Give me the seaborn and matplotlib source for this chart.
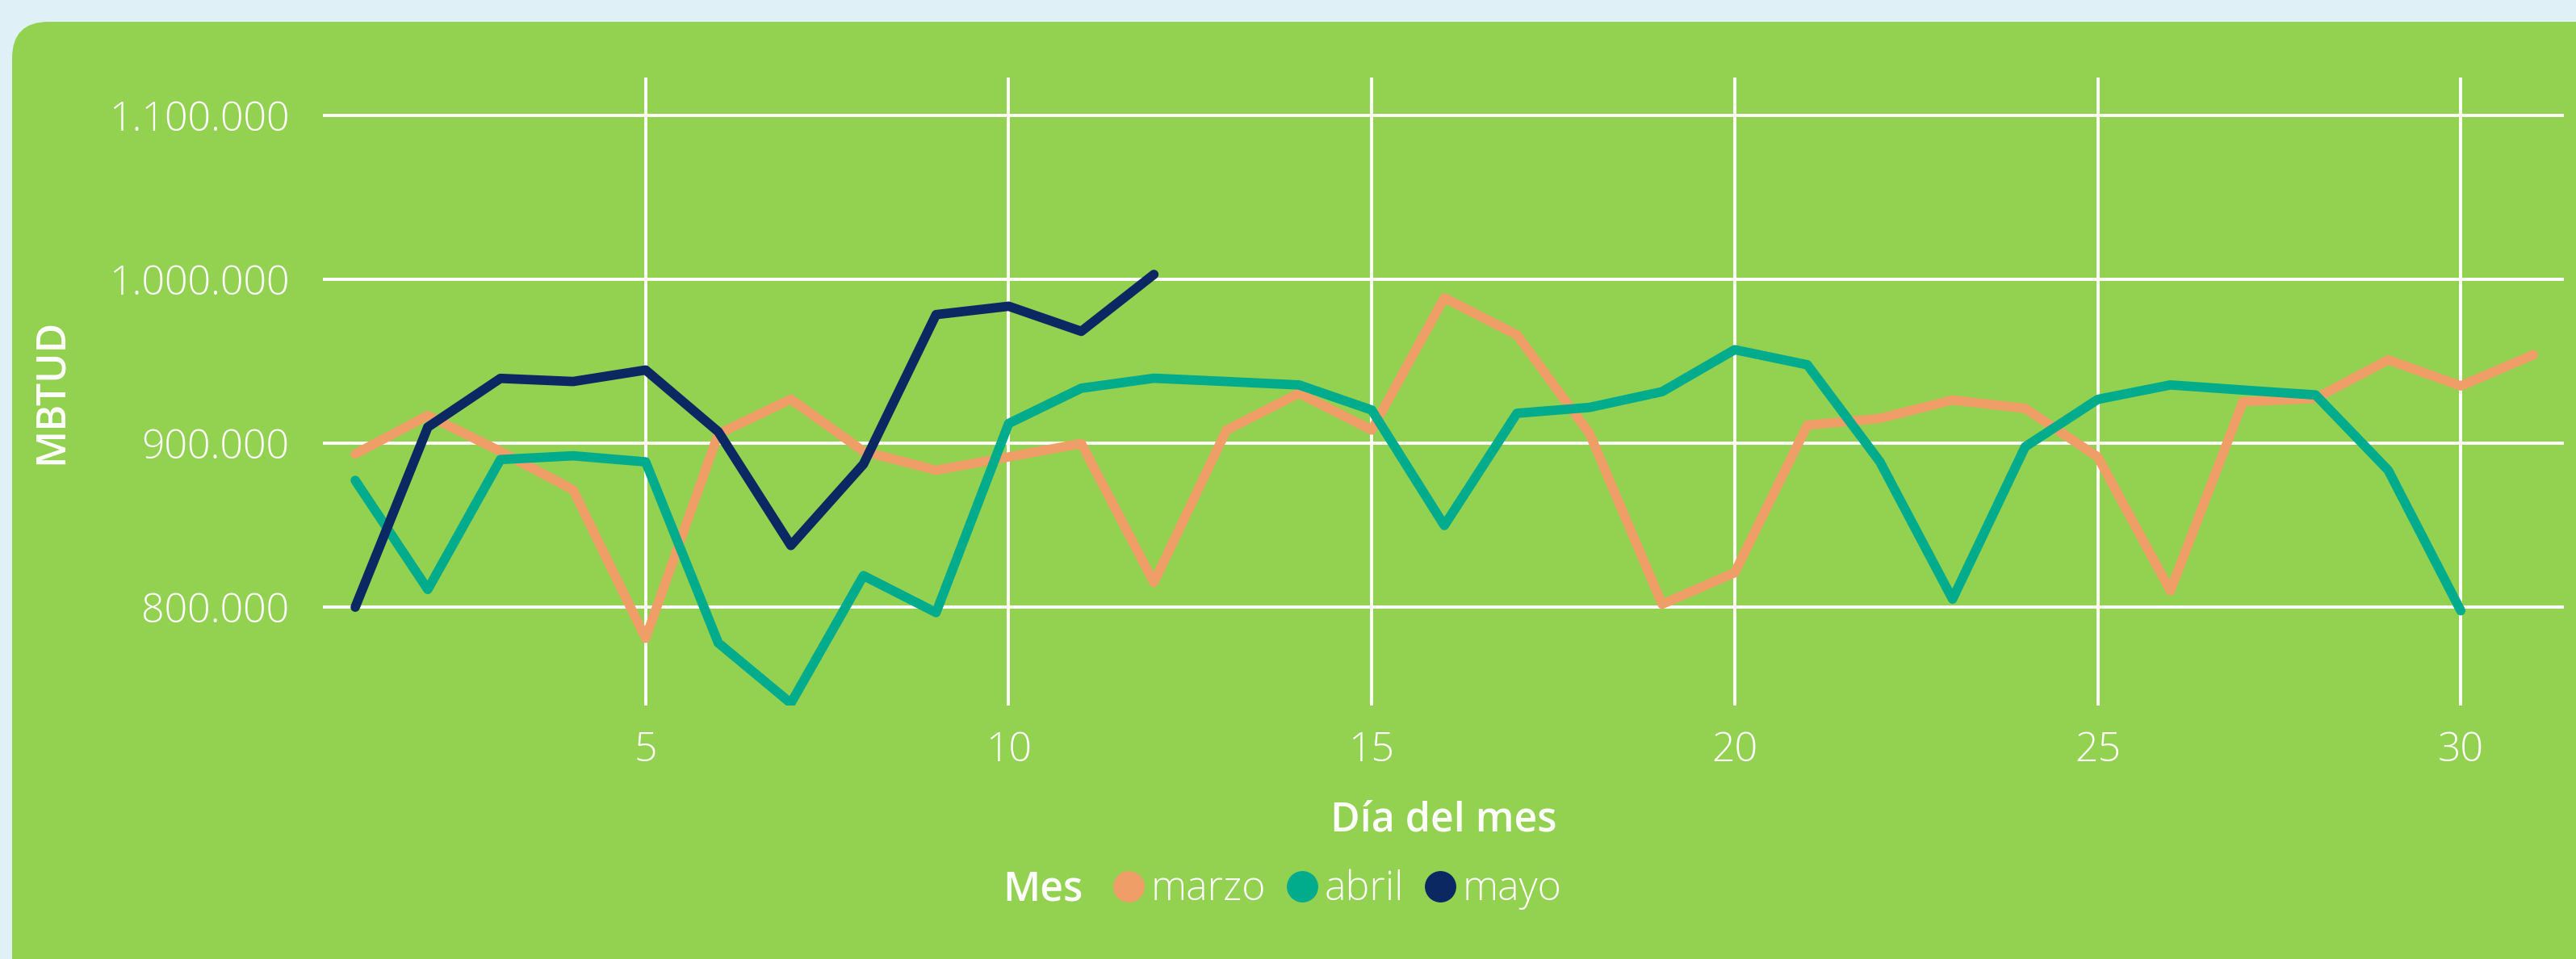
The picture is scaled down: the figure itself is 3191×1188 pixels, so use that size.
import pandas as pd
import seaborn as sns
import matplotlib.pyplot as plt
from matplotlib.patches import FancyBboxPatch
from matplotlib.lines import Line2D
from matplotlib.ticker import FuncFormatter

# Daily values (MBTUD)
dias = [1, 2, 3, 4, 5, 6, 7, 8, 9, 10, 11, 12, 13, 14, 15, 16,
        17, 18, 19, 20, 21, 22, 23, 24, 25, 26, 27, 28, 29, 30, 31]
marzo = [893400, 916900, 895000, 871600, 781000, 905600, 926800, 895000,
         883500, 891600, 899800, 815100, 908000, 930400, 908000, 988600,
         966000, 905900, 801800, 821000, 911000, 915100, 926300, 921200,
         891600, 810000, 925300, 927300, 950800, 934900, 953900]
abril = [877300, 810800, 890000, 892300, 888600, 778200, 741400, 819200,
         796700, 912000, 933500, 939600, 937600, 935500, 920200, 849800,
         918200, 921800, 931400, 957000, 947800, 888600, 804900, 897800,
         926700, 935500, 932400, 929400, 883500, 797800]
mayo = [800000, 909800, 939500, 937600, 944600, 907000, 837600, 887200,
        978400, 983500, 968200, 1002900]
meses = ['marzo', 'abril', 'mayo']
y_ticks = [800000, 900000, 1000000, 1100000]
x_ticks = [5, 10, 15, 20, 25, 30]

colores = {'marzo': '#F09E67', 'abril': '#00AC8C', 'mayo': '#0B2862'}
verde = '#93D150'
fondo = '#DFF0F7'

# long format table for seaborn
df = pd.concat([
    pd.DataFrame({'Día': dias[:len(marzo)], 'MBTUD': marzo, 'Mes': 'marzo'}),
    pd.DataFrame({'Día': dias[:len(abril)], 'MBTUD': abril, 'Mes': 'abril'}),
    pd.DataFrame({'Día': dias[:len(mayo)], 'MBTUD': mayo, 'Mes': 'mayo'}),
], ignore_index=True)

sns.set_style('white')
plt.rcParams['font.family'] = ['Open Sans', 'DejaVu Sans']

fig = plt.figure(figsize=(3191 / 200, 1188 / 200), dpi=200, facecolor=fondo)

# green rounded panel behind everything (pixel coords)
panel = FancyBboxPatch((15, -60), 3260, 1188 - 27 + 60,
                       boxstyle='round,pad=0,rounding_size=45',
                       transform=None, facecolor=verde, edgecolor='none', zorder=-5)
fig.patches.append(panel)

ax = fig.add_axes([400 / 3191, 1 - 874 / 1188, 2776 / 3191, 778 / 1188])
ax.set_zorder(1)
ax.set_facecolor('none')

sns.lineplot(data=df, x='Día', y='MBTUD', hue='Mes', hue_order=meses,
             palette=colores, linewidth=4.2, legend=False, ax=ax)
for ln in ax.lines:
    ln.set_solid_capstyle('round')
    ln.set_solid_joinstyle('round')

ax.set_xlim(0.555, 31.42)
ax.set_ylim(740000, 1123000)
ax.set_xticks(x_ticks)
ax.set_yticks(y_ticks)
ax.yaxis.set_major_formatter(FuncFormatter(lambda v, p: f"{int(v):,}".replace(',', '.')))

ax.grid(True, color='white', linewidth=1.4)
ax.set_axisbelow(True)
for s in ax.spines.values():
    s.set_visible(False)

ax.tick_params(axis='both', length=0, colors='white', labelsize=18)
ax.tick_params(axis='y', pad=15)
ax.tick_params(axis='x', pad=11)
for t in ax.get_xticklabels() + ax.get_yticklabels():
    t.set_fontweight('light')

ax.set_xlabel('Día del mes', color='white', fontsize=18, fontweight='semibold')
ax.set_ylabel('MBTUD', color='white', fontsize=18, fontweight='semibold')
ax.xaxis.set_label_coords(0.5, -0.151)
ax.yaxis.set_label_coords(-0.112, 0.5)

# legend: bold title on the left, round markers
fig.text(1342 / 3191, 1 - 1102 / 1188, 'Mes', color='white', fontsize=18,
         fontweight='semibold', ha='right', va='center', zorder=2)
handles = [Line2D([], [], linestyle='none', marker='o', markersize=14,
                  markerfacecolor=colores[m], markeredgecolor='none') for m in meses]
leg = fig.legend(handles, meses, loc='center left',
                 bbox_to_anchor=(1378 / 3191, 1 - 1102 / 1188), ncol=3,
                 frameon=False, fontsize=18, handlelength=0.8,
                 handletextpad=0.15, columnspacing=0.5, borderpad=0,
                 borderaxespad=0)
leg.set_zorder(2)
for t in leg.get_texts():
    t.set_color('white')
    t.set_fontweight('light')

fig.savefig('out.png', dpi=200, facecolor=fondo)
